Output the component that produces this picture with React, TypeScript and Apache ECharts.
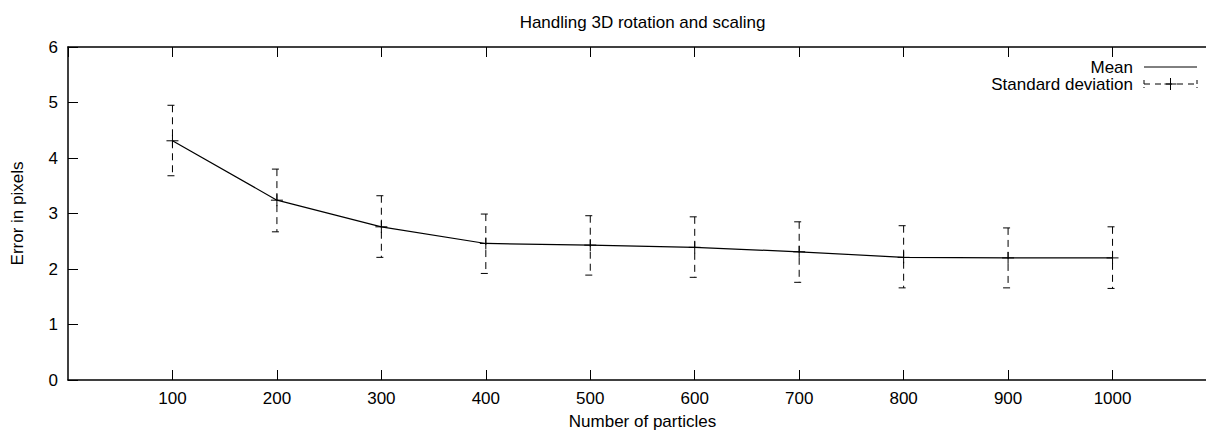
import React, { useEffect, useRef } from "react";
import * as echarts from "echarts";

const particleCounts = [100, 200, 300, 400, 500, 600, 700, 800, 900, 1000];
const meanValues = [4.31, 3.24, 2.76, 2.46, 2.43, 2.39, 2.31, 2.21, 2.2, 2.2];
const lowerValues = [3.68, 2.67, 2.21, 1.92, 1.89, 1.85, 1.76, 1.66, 1.66, 1.65];
const upperValues = [4.95, 3.8, 3.32, 2.99, 2.96, 2.94, 2.85, 2.78, 2.74, 2.76];

const titleText = "Handling 3D rotation and scaling";
const xName = "Number of particles";
const yName = "Error in pixels";
const legendNames = ["Mean", "Standard deviation"];

const FONT = "'Liberation Sans', Arial, Helvetica, sans-serif";
const FS = 17;

export default function App() {
  const ref = useRef<HTMLDivElement>(null);
  useEffect(() => {
    document.body.style.margin = "0";
    const chart = echarts.init(ref.current!, null, { renderer: "svg" });
    const dash = [7, 5];
    const errData = particleCounts.map((c, i) => [c, lowerValues[i], upperValues[i], meanValues[i]]);
    const lineData = particleCounts.map((c, i) => [c, meanValues[i]]);
    const axisCommon = {
      type: "value",
      min: 0,
      max: 1100,
      interval: 100,
      splitLine: { show: false },
      axisLine: { show: true, onZero: false, lineStyle: { color: "#000", width: 1.5 } },
      axisTick: { show: true, inside: true, length: 10, lineStyle: { color: "#000", width: 1 } },
    };
    const lx = 1133;
    const sx1 = 1144;
    const sx2 = 1197;
    const y1 = 67;
    const y2 = 84;
    const option: any = {
      animation: false,
      backgroundColor: "#fff",
      grid: { left: 68, top: 47, width: 1149, height: 333, containLabel: false, outerBoundsMode: "none" },
      xAxis: [
        {
          ...axisCommon,
          position: "bottom",
          name: xName,
          nameLocation: "middle",
          nameGap: 33,
          nameTextStyle: { fontFamily: FONT, fontSize: FS, color: "#000" },
          axisLabel: {
            showMinLabel: false,
            showMaxLabel: false,
            margin: 10,
            fontFamily: FONT,
            fontSize: FS,
            color: "#000",
            formatter: (v: number) => String(v),
          },
        },
        {
          ...axisCommon,
          position: "top",
          axisLabel: { show: false },
        },
      ],
      yAxis: [
        {
          type: "value",
          min: 0,
          max: 6,
          interval: 1,
          name: yName,
          nameLocation: "middle",
          nameGap: 42,
          nameTextStyle: { fontFamily: FONT, fontSize: FS, color: "#000" },
          splitLine: { show: false },
          axisLine: { show: true, lineStyle: { color: "#000", width: 1.5 } },
          axisTick: { show: true, inside: true, length: 10, lineStyle: { color: "#000", width: 1 } },
          axisLabel: { margin: 10, fontFamily: FONT, fontSize: FS, color: "#000" },
        },
      ],
      graphic: [
        {
          type: "text",
          x: 642.5,
          y: 22,
          style: {
            text: titleText,
            textAlign: "center",
            textVerticalAlign: "middle",
            fontFamily: FONT,
            fontSize: FS,
            fill: "#000",
          },
        },
        {
          type: "text",
          x: lx,
          y: y1,
          style: { text: legendNames[0], textAlign: "right", textVerticalAlign: "middle", fontFamily: FONT, fontSize: FS, fill: "#000" },
        },
        {
          type: "line",
          shape: { x1: sx1, y1: y1, x2: sx2, y2: y1 },
          style: { stroke: "#000", lineWidth: 1 },
        },
        {
          type: "text",
          x: lx,
          y: y2,
          style: { text: legendNames[1], textAlign: "right", textVerticalAlign: "middle", fontFamily: FONT, fontSize: FS, fill: "#000" },
        },
        {
          type: "line",
          shape: { x1: sx1, y1: y2, x2: sx2, y2: y2 },
          style: { stroke: "#000", lineWidth: 1, lineDash: [6, 5] },
        },
        { type: "line", shape: { x1: sx1, y1: y2 - 4, x2: sx1, y2: y2 + 4 }, style: { stroke: "#000", lineWidth: 1, lineDash: [4, 3] } },
        { type: "line", shape: { x1: sx2, y1: y2 - 4, x2: sx2, y2: y2 + 4 }, style: { stroke: "#000", lineWidth: 1, lineDash: [4, 3] } },
        { type: "line", shape: { x1: (sx1 + sx2) / 2 - 6, y1: y2, x2: (sx1 + sx2) / 2 + 6, y2: y2 }, style: { stroke: "#000", lineWidth: 1 } },
        { type: "line", shape: { x1: (sx1 + sx2) / 2, y1: y2 - 6, x2: (sx1 + sx2) / 2, y2: y2 + 6 }, style: { stroke: "#000", lineWidth: 1 } },
      ],
      series: [
        {
          name: legendNames[0],
          type: "line",
          data: lineData,
          showSymbol: false,
          symbol: "none",
          lineStyle: { color: "#000", width: 1.2 },
          z: 2,
        },
        {
          name: legendNames[1],
          type: "custom",
          data: errData,
          encode: { x: 0, y: [1, 2, 3] },
          z: 3,
          renderItem: (params: any, api: any) => {
            const x = api.value(0);
            const top = api.coord([x, api.value(2)]);
            const bot = api.coord([x, api.value(1)]);
            const mid = api.coord([x, api.value(3)]);
            const st = { stroke: "#000", lineWidth: 1, lineDash: dash };
            const solid = { stroke: "#000", lineWidth: 1 };
            return {
              type: "group",
              children: [
                { type: "line", shape: { x1: top[0], y1: top[1], x2: bot[0], y2: bot[1] }, style: st },
                { type: "line", shape: { x1: top[0] - 5, y1: top[1], x2: top[0] + 5, y2: top[1] }, style: st },
                { type: "line", shape: { x1: bot[0] - 5, y1: bot[1], x2: bot[0] + 5, y2: bot[1] }, style: st },
                { type: "line", shape: { x1: mid[0] - 6, y1: mid[1], x2: mid[0] + 6, y2: mid[1] }, style: solid },
                { type: "line", shape: { x1: mid[0], y1: mid[1] - 6, x2: mid[0], y2: mid[1] + 6 }, style: solid },
              ],
            };
          },
        },
      ],
    };
    chart.setOption(option);
    return () => chart.dispose();
  }, []);
  return <div ref={ref} style={{ width: 1206, height: 431 }} />;
}
